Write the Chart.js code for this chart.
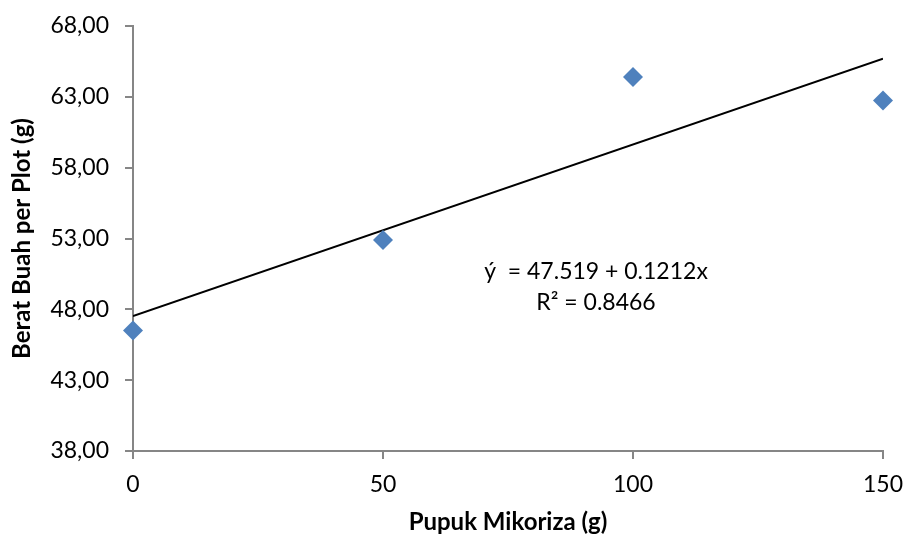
<!DOCTYPE html>
<html><head><meta charset="utf-8">
<script src="https://cdn.jsdelivr.net/npm/chart.js@4.4.1/dist/chart.umd.min.js"></script>
<style>html,body{margin:0;padding:0;background:#fff}#wrap{width:906px;height:537px}</style>
</head><body><div id="wrap"><canvas id="c" width="906" height="537"></canvas></div>
<script>
const doses = [0, 50, 100, 150];
const weights = [46.5, 52.9, 64.4, 62.75];
const trendX = [0, 150];
const trendY = [47.519, 65.699];
const yTicks = [38, 43, 48, 53, 58, 63, 68];
const xTicks = [0, 50, 100, 150];
const eqLine1 = 'ý  = 47.519 + 0.1212x';
const eqLine2 = 'R² = 0.8466';

const FONT = 'Lato, "Open Sans", sans-serif';
const axisGray = '#868686';

const eqPlugin = {
  id: 'eq',
  afterDraw(chart) {
    const ctx = chart.ctx;
    const xs = chart.scales.x, ys = chart.scales.y;
    ctx.save();
    ctx.fillStyle = '#000';
    ctx.font = '23px ' + FONT;
    ctx.textAlign = 'center';
    ctx.textBaseline = 'middle';
    ctx.fillText(eqLine1, xs.getPixelForValue(92.6), ys.getPixelForValue(50.63));
    ctx.fillText(eqLine2, xs.getPixelForValue(92.6), ys.getPixelForValue(48.45));
    ctx.restore();
  }
};

new Chart(document.getElementById('c'), {
  type: 'scatter',
  data: {
    datasets: [
      {
        label: 'Berat',
        data: doses.map((d, i) => ({x: d, y: weights[i]})),
        pointStyle: 'rectRot',
        pointRadius: 10,
        pointHoverRadius: 10,
        backgroundColor: '#4F81BD',
        borderColor: '#4F81BD',
        borderWidth: 0,
        clip: false,
        order: 1
      },
      {
        label: 'Trend',
        type: 'line',
        data: trendX.map((d, i) => ({x: d, y: trendY[i]})),
        borderColor: '#000',
        borderWidth: 2,
        pointRadius: 0,
        fill: false,
        order: 2
      }
    ]
  },
  options: {
    responsive: false,
    animation: false,
    layout: {autoPadding: false, padding: {top: 26, right: 23, left: 0, bottom: 0}},
    plugins: {legend: {display: false}, tooltip: {enabled: false}},
    scales: {
      x: {
        type: 'linear', min: 0, max: 150,
        afterBuildTicks(s) { s.ticks = xTicks.map(v => ({value: v})); },
        afterFit(s) { s.height = 86; s.paddingLeft = 0; s.paddingRight = 0; },
        border: {color: axisGray, width: 2},
        grid: {display: true, drawOnChartArea: false, tickLength: 8, color: axisGray, lineWidth: 2},
        ticks: {color: '#000', font: {family: FONT, size: 23}, padding: 12},
        title: {display: true, text: 'Pupuk Mikoriza (g)', color: '#000', font: {family: FONT, size: 24, weight: 'bold'}, padding: {top: 6, bottom: 0}}
      },
      y: {
        type: 'linear', min: 38, max: 68,
        afterBuildTicks(s) { s.ticks = yTicks.map(v => ({value: v})); },
        afterFit(s) { s.width = 133; s.paddingTop = 0; s.paddingBottom = 0; },
        border: {color: axisGray, width: 2},
        grid: {display: true, drawOnChartArea: false, tickLength: 8, color: axisGray, lineWidth: 2},
        ticks: {color: '#000', font: {family: FONT, size: 23}, padding: 16,
          callback: v => v.toFixed(2).replace('.', ',')},
        title: {display: true, text: 'Berat Buah per Plot (g)', color: '#000', font: {family: FONT, size: 24, weight: 'bold'}, padding: {top: 8, bottom: 0}}
      }
    }
  },
  plugins: [eqPlugin]
});
</script></body></html>
